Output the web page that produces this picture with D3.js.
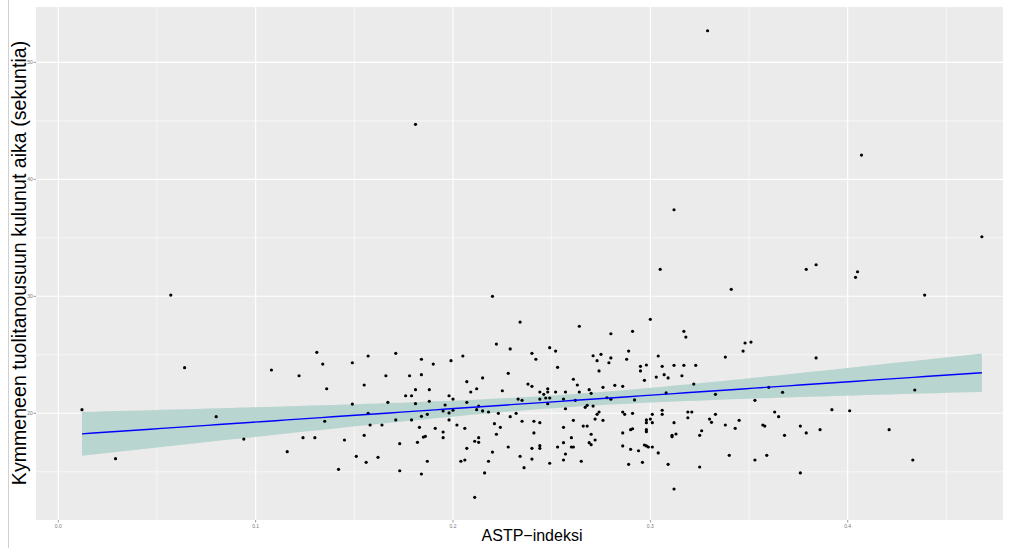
<!DOCTYPE html>
<html>
<head>
<meta charset="utf-8">
<script src="https://cdn.jsdelivr.net/npm/d3@7"></script>
<style>
  html, body { margin: 0; padding: 0; background: #ffffff; }
  svg { display: block; }
</style>
</head>
<body>
<svg id="chart" width="1016" height="548"></svg>
<script>
// ASTP index of each participant
const astp = [
  0.329, 0.181, 0.312, 0.305, 0.341, 0.379, 0.384, 0.057, 0.220, 0.407,
  0.468, 0.404, 0.405, 0.439, 0.317, 0.318, 0.348, 0.351, 0.347, 0.338,
  0.384, 0.317, 0.323, 0.316, 0.322, 0.333, 0.360, 0.367, 0.434, 0.353,
  0.319, 0.321, 0.319, 0.333, 0.330, 0.331, 0.338, 0.345, 0.343, 0.357,
  0.358, 0.363, 0.365, 0.368, 0.376, 0.379, 0.386, 0.392, 0.401, 0.421,
  0.325, 0.326, 0.340, 0.353, 0.359, 0.325, 0.376, 0.433,
  0.300, 0.264, 0.280, 0.291, 0.249, 0.252, 0.271, 0.275, 0.273, 0.280,
  0.279, 0.289, 0.288, 0.304, 0.295, 0.298, 0.295, 0.306, 0.312, 0.253,
  0.274, 0.261, 0.263, 0.297, 0.303, 0.307, 0.309, 0.282, 0.286, 0.276,
  0.269, 0.270, 0.264, 0.257, 0.252, 0.248, 0.248, 0.247, 0.249, 0.248,
  0.256, 0.262, 0.278, 0.280, 0.292, 0.308, 0.257, 0.271, 0.267, 0.268,
  0.274, 0.273, 0.272, 0.276, 0.261, 0.286, 0.287, 0.291, 0.306, 0.306,
  0.301, 0.300, 0.298, 0.301, 0.298, 0.312, 0.266, 0.268, 0.256, 0.291,
  0.290, 0.286, 0.298, 0.298, 0.270, 0.260, 0.272, 0.256, 0.269, 0.270,
  0.253, 0.260, 0.261, 0.286, 0.290, 0.294, 0.297, 0.298, 0.299, 0.301,
  0.304, 0.257, 0.256, 0.265, 0.249, 0.289, 0.296, 0.309, 0.312, 0.311,
  0.311, 0.313,
  0.234, 0.222, 0.229, 0.240, 0.242, 0.171, 0.184, 0.190, 0.199, 0.205,
  0.166, 0.178, 0.184, 0.215, 0.207, 0.228, 0.238, 0.240, 0.181, 0.188,
  0.212, 0.209, 0.225, 0.244, 0.246, 0.176, 0.179, 0.198, 0.200, 0.167,
  0.188, 0.181, 0.196, 0.207, 0.213, 0.233, 0.235, 0.244, 0.195, 0.198,
  0.200, 0.212, 0.215, 0.218, 0.223, 0.187, 0.184, 0.171, 0.179, 0.198,
  0.202, 0.183, 0.191, 0.195, 0.206, 0.221, 0.224, 0.229, 0.232, 0.235,
  0.241, 0.244, 0.241, 0.222, 0.195, 0.185, 0.186, 0.182, 0.173, 0.213,
  0.211, 0.213, 0.207, 0.228, 0.240, 0.244, 0.244, 0.220, 0.234, 0.240,
  0.187, 0.204, 0.206, 0.218, 0.236, 0.173, 0.184, 0.216, 0.211,
  0.131, 0.134, 0.149, 0.157, 0.108, 0.122, 0.136, 0.155, 0.149, 0.157,
  0.135, 0.158, 0.164, 0.094, 0.124, 0.130, 0.145, 0.155, 0.116, 0.151,
  0.156, 0.162, 0.142,
  0.012, 0.029, 0.064, 0.080
];

// Time taken for ten sit-to-stand repetitions (seconds)
const aika = [
  52.70, 44.70, 37.40, 32.31, 30.60, 32.31, 32.70, 30.11, 30.00, 42.07,
  35.09, 31.62, 32.10, 30.11, 27.01, 26.52, 26.01, 26.09, 25.32, 24.81,
  24.73, 24.10, 24.10, 23.21, 22.50, 21.62, 22.22, 21.79, 21.99, 21.11,
  20.11, 20.11, 19.62, 19.91, 19.51, 19.23, 19.00, 19.40, 18.72, 19.00,
  18.91, 20.11, 19.71, 18.12, 18.91, 18.32, 18.60, 20.31, 20.22, 18.60,
  18.12, 18.51, 16.41, 16.01, 16.41, 15.41, 14.90, 16.01,
  28.03, 27.44, 26.80, 27.01, 25.61, 25.32, 24.92, 25.04, 24.50, 24.73,
  24.32, 25.32, 24.62, 24.90, 24.02, 24.13, 23.62, 24.02, 24.10, 23.93,
  23.62, 22.91, 22.42, 22.82, 23.10, 23.30, 23.02, 22.39, 22.31, 22.22,
  22.02, 21.71, 21.82, 21.82, 21.82, 22.10, 21.82, 21.31, 21.31, 20.82,
  21.22, 21.11, 21.33, 21.20, 21.14, 21.74, 20.39, 20.62, 20.51, 20.68,
  20.11, 19.91, 19.51, 19.40, 19.40, 20.11, 19.91, 20.00, 20.26, 19.91,
  19.91, 19.51, 19.43, 19.20, 19.20, 19.20, 18.91, 18.91, 18.80, 18.68,
  18.60, 18.32, 18.60, 18.43, 18.21, 17.92, 17.72, 17.49, 17.49, 17.32,
  17.12, 17.12, 17.12, 17.21, 16.92, 16.80, 17.29, 17.21, 17.12, 17.12,
  16.61, 16.52, 16.01, 15.90, 15.73, 15.64, 15.81, 15.64, 13.53, 18.12,
  18.00, 18.23,
  27.80, 25.92, 25.50, 25.13, 24.62, 25.13, 24.62, 24.21, 24.50, 24.90,
  23.21, 23.21, 23.30, 23.02, 22.70, 23.42, 22.50, 22.31, 22.02, 22.02,
  22.10, 21.82, 21.93, 21.82, 21.62, 21.50, 21.50, 21.50, 21.22, 20.94,
  21.03, 20.82, 20.71, 20.94, 20.62, 21.22, 21.11, 21.22, 20.20, 20.03,
  20.26, 20.31, 20.20, 20.11, 20.00, 19.91, 19.74, 19.43, 19.43, 19.43,
  19.00, 18.80, 18.72, 18.40, 18.72, 19.11, 18.80, 19.71, 20.00, 19.32,
  19.32, 19.20, 18.32, 18.21, 17.92, 17.97, 18.03, 17.52, 17.40, 17.92,
  17.61, 17.52, 17.01, 17.12, 17.01, 17.23, 17.01, 16.69, 16.32, 16.09,
  15.90, 15.90, 16.01, 15.90, 15.35, 15.09, 14.81, 14.90, 12.82,
  25.21, 24.21, 24.32, 24.90, 23.70, 23.21, 22.10, 22.42, 20.79, 20.00,
  19.32, 19.00, 19.00, 17.80, 17.92, 17.92, 17.72, 18.12, 16.72, 16.32,
  15.81, 16.24, 15.21,
  20.31, 16.12, 23.90, 19.71
];

// Axis limits, breaks and titles
const xLimits = [-0.0113, 0.4787];
const yLimits = [10.88, 54.73];
const xTicks = [0.0, 0.1, 0.2, 0.3, 0.4];
const xTickLabels = ["0.0", "0.1", "0.2", "0.3", "0.4"];
const xMinor = [0.05, 0.15, 0.25, 0.35, 0.45];
const yTicks = [20, 30, 40, 50];
const yTickLabels = ["20", "30", "40", "50"];
const yMinor = [15, 25, 35, 45];
const xTitle = "ASTP\u2212indeksi";
const yTitle = "Kymmeneen tuolitanousuun kulunut aika (sekuntia)";

const svg = d3.select("#chart");
const panel = { left: 36, right: 1003, top: 7, bottom: 520 };

const points = astp.map((x, i) => ({ x, y: aika[i] }));
const xExt = d3.extent(astp);

const x = d3.scaleLinear().domain(xLimits).range([panel.left, panel.right]);
const y = d3.scaleLinear().domain(yLimits).range([panel.bottom, panel.top]);

// Outer frame line on the left edge
svg.append("line").attr("x1", 8.5).attr("x2", 8.5).attr("y1", 0).attr("y2", 548)
  .attr("stroke", "#d0d0d0").attr("stroke-width", 1);

// Panel background
svg.append("rect")
  .attr("x", panel.left).attr("y", panel.top)
  .attr("width", panel.right - panel.left).attr("height", panel.bottom - panel.top)
  .attr("fill", "#EBEBEB");

const grid = svg.append("g");
grid.selectAll(".xminor").data(xMinor.filter(v => x(v) > panel.left && x(v) < panel.right)).join("line")
  .attr("x1", d => x(d)).attr("x2", d => x(d)).attr("y1", panel.top).attr("y2", panel.bottom)
  .attr("stroke", "#ffffff").attr("stroke-width", 0.6);
grid.selectAll(".yminor").data(yMinor.filter(v => y(v) > panel.top && y(v) < panel.bottom)).join("line")
  .attr("y1", d => y(d)).attr("y2", d => y(d)).attr("x1", panel.left).attr("x2", panel.right)
  .attr("stroke", "#ffffff").attr("stroke-width", 0.6);
grid.selectAll(".xmajor").data(xTicks).join("line")
  .attr("x1", d => x(d)).attr("x2", d => x(d)).attr("y1", panel.top).attr("y2", panel.bottom)
  .attr("stroke", "#ffffff").attr("stroke-width", 1.1);
grid.selectAll(".ymajor").data(yTicks).join("line")
  .attr("y1", d => y(d)).attr("y2", d => y(d)).attr("x1", panel.left).attr("x2", panel.right)
  .attr("stroke", "#ffffff").attr("stroke-width", 1.1);

// Linear fit with 95% confidence band (lm, as geom_smooth does)
const n = points.length;
const mx = d3.mean(astp), my = d3.mean(aika);
let sxx = 0, sxy = 0;
points.forEach(p => { sxx += (p.x - mx) ** 2; sxy += (p.x - mx) * (p.y - my); });
const slope = sxy / sxx, intercept = my - slope * mx;
let sse = 0;
points.forEach(p => { sse += (p.y - (intercept + slope * p.x)) ** 2; });
const sigma = Math.sqrt(sse / (n - 2));
const tCrit = 1.969;
const fitGrid = d3.range(80).map(i => xExt[0] + (xExt[1] - xExt[0]) * i / 79);
const fit = fitGrid.map(xv => {
  const yh = intercept + slope * xv;
  const se = sigma * Math.sqrt(1 / n + (xv - mx) ** 2 / sxx);
  return { x: xv, y: yh, lo: yh - tCrit * se, hi: yh + tCrit * se };
});

svg.append("path").datum(fit)
  .attr("d", d3.area().x(d => x(d.x)).y0(d => y(d.lo)).y1(d => y(d.hi)))
  .attr("fill", "#b9d5cf");

// Points
svg.append("g").selectAll("circle").data(points).join("circle")
  .attr("cx", d => x(d.x)).attr("cy", d => y(d.y)).attr("r", 1.6)
  .attr("fill", "#000000");

// Fitted line
svg.append("path").datum(fit)
  .attr("d", d3.line().x(d => x(d.x)).y(d => y(d.y)))
  .attr("fill", "none").attr("stroke", "#0000FF").attr("stroke-width", 1.4);

// Axes: tiny grey tick labels and short tick marks
const xAxis = svg.append("g");
xAxis.selectAll("line").data(xTicks).join("line")
  .attr("x1", d => x(d)).attr("x2", d => x(d)).attr("y1", panel.bottom).attr("y2", panel.bottom + 2.5)
  .attr("stroke", "#555").attr("stroke-width", 0.6);
xAxis.selectAll("text").data(xTicks).join("text")
  .attr("x", d => x(d)).attr("y", panel.bottom + 7.5)
  .attr("text-anchor", "middle").attr("font-family", "Liberation Sans, Arial, sans-serif")
  .attr("font-size", 5).attr("fill", "#777")
  .text((d, i) => xTickLabels[i]);

const yAxis = svg.append("g");
yAxis.selectAll("line").data(yTicks).join("line")
  .attr("x1", panel.left - 2.5).attr("x2", panel.left).attr("y1", d => y(d)).attr("y2", d => y(d))
  .attr("stroke", "#555").attr("stroke-width", 0.6);
yAxis.selectAll("text").data(yTicks).join("text")
  .attr("x", panel.left - 3.2).attr("y", d => y(d) + 1.8)
  .attr("text-anchor", "end").attr("font-family", "Liberation Sans, Arial, sans-serif")
  .attr("font-size", 5).attr("fill", "#777")
  .text((d, i) => yTickLabels[i]);

// Axis titles
svg.append("text")
  .attr("x", 532).attr("y", 541)
  .attr("text-anchor", "middle").attr("font-family", "Liberation Sans, Arial, sans-serif")
  .attr("font-size", 16).attr("fill", "#000")
  .text(xTitle);

svg.append("text")
  .attr("transform", "translate(26,263) rotate(-90)")
  .attr("text-anchor", "middle").attr("font-family", "Liberation Sans, Arial, sans-serif")
  .attr("font-size", 19.6).attr("fill", "#000")
  .text(yTitle);
</script>
</body>
</html>
